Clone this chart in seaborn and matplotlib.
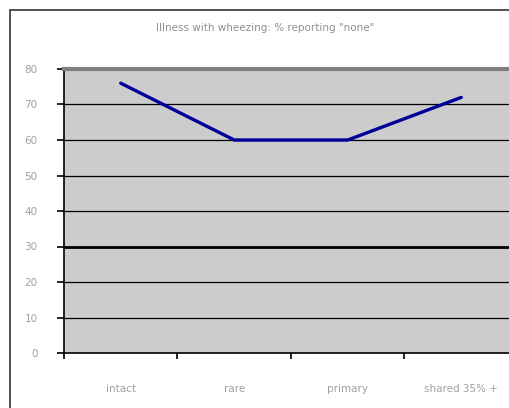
import matplotlib
matplotlib.use("Agg")
import matplotlib.pyplot as plt
import seaborn as sns
import pandas as pd
from matplotlib.patches import Rectangle
from matplotlib.ticker import FixedLocator, NullFormatter

categories = ["intact", "rare", "primary", "shared 35%+"]
tick_labels = ["intact", "rare", "primary", "shared 35% +"]
values = [76, 60, 60, 72]
title = "Illness with wheezing: % reporting \"none\""

sns.set_style("white")
plt.rcParams["font.family"] = ["DejaVu Sans"]

df = pd.DataFrame({"cat": categories, "pct": values})

fig = plt.figure(figsize=(5.10, 4.08), dpi=100)
fig.patch.set_facecolor("white")

# outer chart frame
fig.patches.append(Rectangle((10 / 510, -0.05), 1.2, (408 - 10) / 408 + 0.05,
                             transform=fig.transFigure, fill=False,
                             edgecolor="#333333", linewidth=1.2, zorder=0))

ax = fig.add_axes([64 / 510, 55 / 408, 454 / 510, 284 / 408])
ax.set_facecolor("#cccccc")

sns.lineplot(data=df, x="cat", y="pct", ax=ax, color="#000099",
             linewidth=2.4, sort=False, zorder=5)

ax.set_xlim(-0.5, 3.5)
ax.set_ylim(0, 80)
ax.set_yticks(range(0, 81, 10))
for y in range(10, 80, 10):
    ax.axhline(y, color="black", linewidth=2.0 if y == 30 else 0.9, zorder=2)

ax.set_xticks(range(len(categories)))
ax.set_xticklabels(tick_labels)
ax.xaxis.set_minor_locator(FixedLocator([-0.5, 0.5, 1.5, 2.5, 3.5]))
ax.xaxis.set_minor_formatter(NullFormatter())
ax.tick_params(axis="x", which="major", bottom=True, length=0, pad=22,
               labelsize=7.5, labelcolor="#a0a0a0")
ax.tick_params(axis="x", which="minor", bottom=True, length=4, width=1.2,
               color="black", direction="out")
ax.tick_params(axis="y", left=True, length=5, width=1.2, color="black", direction="out",
               labelsize=7.5, labelcolor="#a0a0a0", pad=14)

ax.set_xlabel("")
ax.set_ylabel("")

for side in ["left", "bottom"]:
    ax.spines[side].set_color("black")
    ax.spines[side].set_linewidth(1.2)
ax.spines["top"].set_color("#808080")
ax.spines["top"].set_linewidth(3)
ax.spines["right"].set_visible(False)

fig.text(265 / 510, 1 - 28 / 408, title, ha="center", va="center",
         fontsize=7.5, color="#909090")

fig.savefig("out.png", dpi=100)
